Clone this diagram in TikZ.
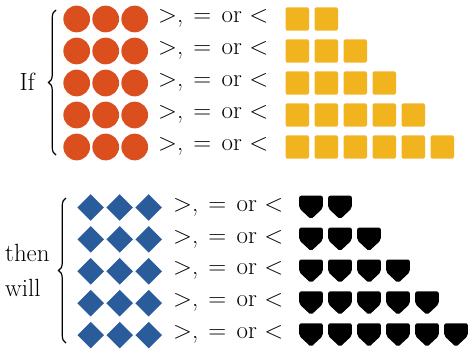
\documentclass[tikz,border=0pt]{standalone}
\usetikzlibrary{shapes.geometric,decorations.pathreplacing}
\definecolor{dotred}{HTML}{DB4F1E}
\definecolor{sqgold}{HTML}{F2B41E}
\definecolor{dmblue}{HTML}{2A5C9C}
\newcommand{\cmpline}{$>$,\hspace{0.4em}$=$\hspace{0.42em}or\hspace{0.3em}$<$}
\tikzset{
  dot/.style={circle,fill=dotred,inner sep=0pt,minimum size=26.7bp},
  sq/.style={rectangle,fill=sqgold,inner sep=0pt,minimum size=23.4bp,rounded corners=1.5bp},
  dm/.style={diamond,fill=dmblue,inner sep=0pt,minimum width=26.7bp,minimum height=26.7bp},
  lbl/.style={font=\fontsize{25}{29}\selectfont,inner sep=0pt},
  bracestyle/.style={decorate,decoration={brace,amplitude=7.5bp},line width=1.2bp},
}
\begin{document}
\begin{tikzpicture}[x=1bp,y=-1bp]
\useasboundingbox (0,0) rectangle (469,349);
% top block
\foreach \r in {1,...,5}{
  \pgfmathsetmacro{\yy}{19+32*(\r-1)}
  \foreach \c in {1,2,3}{
    \node[dot] (c\r\c) at ({76.7+29*(\c-1)},\yy) {};
  }
  \node[lbl,anchor=mid west] (tt\r) at (158,\yy+1.5) {\cmpline};
  \pgfmathtruncatemacro{\n}{\r+1}
  \foreach \c in {1,...,\n}{
    \node[sq] (s\r\c) at ({297.3+29*(\c-1)},\yy) {};
  }
}
\coordinate (btA) at (56,155);
\coordinate (btB) at (56,10);
\draw[bracestyle] (btA) -- (btB);
\node[lbl,anchor=base west] (if) at (19.5,90) {If};
% bottom block
\foreach \r in {1,...,5}{
  \pgfmathsetmacro{\yy}{207.5+31.9*(\r-1)}
  \foreach \c in {1,2,3}{
    \node[dm] (d\r\c) at ({90.7+29*(\c-1)},\yy) {};
  }
  \node[lbl,anchor=mid west] (tb\r) at (173,\yy+1.5) {\cmpline};
  \pgfmathtruncatemacro{\n}{\r+1}
  \foreach \c in {1,...,\n}{
    \pgfmathsetmacro{\xx}{311+29*(\c-1)}
    \coordinate (p\r\c) at (\xx,\yy);
    \fill[rounded corners=2bp] ([shift={(-11.8,-11.8)}]p\r\c) -- ([shift={(11.8,-11.8)}]p\r\c)
      -- ([shift={(11.8,0.8)}]p\r\c) -- ([shift={(0,11.8)}]p\r\c)
      -- ([shift={(-11.8,0.8)}]p\r\c) -- cycle;
  }
}
\coordinate (bbA) at (66,343);
\coordinate (bbB) at (66,198);
\draw[bracestyle] (bbA) -- (bbB);
\node[lbl,anchor=base west] (then) at (5,261.7) {then};
\node[lbl,anchor=base west] (will) at (5,296.7) {will};
\end{tikzpicture}
\end{document}
